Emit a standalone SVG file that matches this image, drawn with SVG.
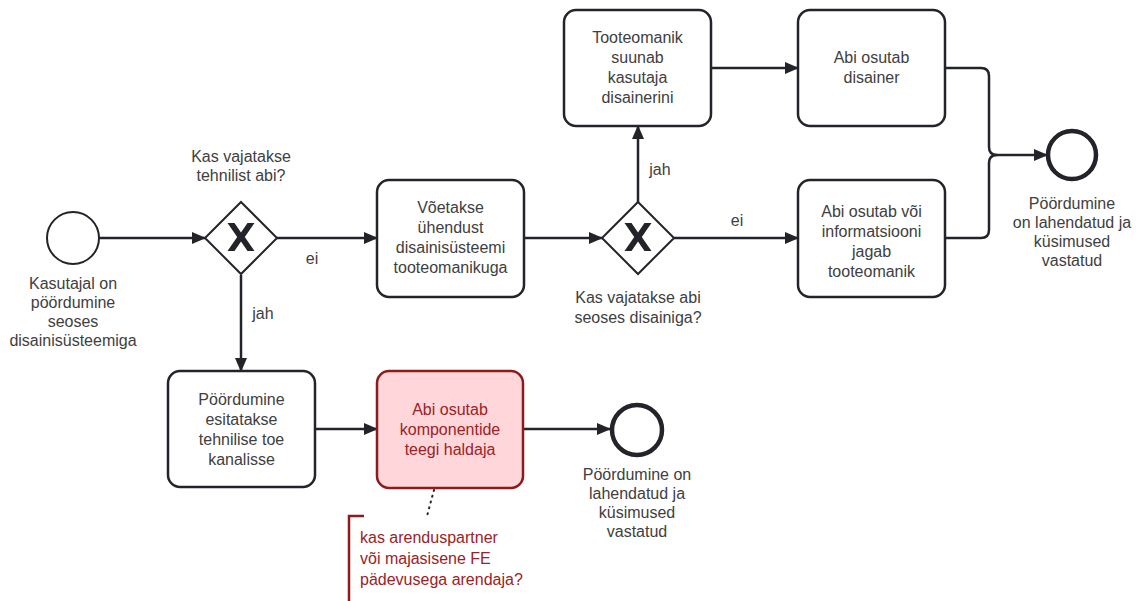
<svg xmlns="http://www.w3.org/2000/svg" width="1136" height="601" viewBox="0 0 1136 601">
<style>
text{font-family:"Liberation Sans",Arial,sans-serif;font-size:16px;fill:#404040;text-anchor:middle}
.task{fill:#ffffff;stroke:#22242a;stroke-width:2.5}
.red{fill:#ffd6da;stroke:#8e1b1b;stroke-width:2.5}
.redt{fill:#9b2226}
.ann{fill:#9b2226;text-anchor:start}
.ev{fill:#ffffff;stroke:#22242a;stroke-width:2}
.end{fill:#ffffff;stroke:#22242a;stroke-width:4.5}
.gw{fill:#ffffff;stroke:#22242a;stroke-width:2}
.x{fill:#22242a}
.flow{fill:none;stroke:#22242a;stroke-width:2.5;marker-end:url(#arr)}
.line{fill:none;stroke:#22242a;stroke-width:2.5}
.assoc{fill:none;stroke:#22242a;stroke-width:2;stroke-dasharray:1 5;stroke-linecap:round}
</style>
<defs>
<marker id="arr" markerUnits="userSpaceOnUse" markerWidth="14" markerHeight="14" viewBox="0 0 14 14" refX="13" refY="7" orient="auto">
<path d="M0,1 L14,7 L0,13 Z" fill="#22242a"/>
</marker>
<path id="xm" d="M-13.5,-14 L-6.5,-14 L0,-4.5 L6.5,-14 L13.5,-14 L3.8,0 L13.5,14 L6.5,14 L0,4.5 L-6.5,14 L-13.5,14 L-3.8,0 Z"/>
</defs>
<rect width="1136" height="601" fill="#ffffff"/>
<g id="connectors">
<path class="flow" d="M99,238 L205,238"/>
<path class="flow" d="M277,238 L377,238"/>
<path class="flow" d="M241,275 L241,371"/>
<path class="flow" d="M524,238 L602,238"/>
<path class="flow" d="M638,202 L638,126"/>
<path class="flow" d="M674,238 L798,238"/>
<path class="flow" d="M711,68 L798,68"/>
<path class="flow" d="M945,68 L981,68 Q989,68 989,76 L989,147 Q989,155 997,155 L1047,155"/>
<path class="line" d="M945,238 L981,238 Q989,238 989,230 L989,163 Q989,155 997,155"/>
<path class="flow" d="M315,429 L377,429"/>
<path class="flow" d="M523,429 L610,429"/>
<path class="assoc" d="M434,490 L427,516"/>
<text x="312" y="264">ei</text>
<text x="263" y="319">jah</text>
<text x="660" y="175">jah</text>
<text x="737" y="226">ei</text>
</g>
<g id="start">
<circle class="ev" cx="73" cy="238" r="26"/>
<text x="73" y="289">Kasutajal on</text>
<text x="73" y="308">pöördumine</text>
<text x="73" y="327">seoses</text>
<text x="73" y="346">disainisüsteemiga</text>
</g>
<g id="gw1">
<path class="gw" d="M241,202 L277,238 L241,274 L205,238 Z"/>
<use href="#xm" class="x" transform="translate(241,237)"/>
<text x="241" y="162">Kas vajatakse</text>
<text x="241" y="181">tehnilist abi?</text>
</g>
<g id="task-votetakse">
<rect class="task" x="377" y="180" width="147" height="117" rx="12"/>
<text x="450.5" y="213">Võetakse</text>
<text x="450.5" y="233">ühendust</text>
<text x="450.5" y="253">disainisüsteemi</text>
<text x="450.5" y="273">tooteomanikuga</text>
</g>
<g id="gw2">
<path class="gw" d="M638,202 L674,238 L638,274 L602,238 Z"/>
<use href="#xm" class="x" transform="translate(638,237)"/>
<text x="638" y="303">Kas vajatakse abi</text>
<text x="638" y="323">seoses disainiga?</text>
</g>
<g id="task-tooteomanik">
<rect class="task" x="564" y="10" width="147" height="116" rx="12"/>
<text x="637.5" y="43">Tooteomanik</text>
<text x="637.5" y="63">suunab</text>
<text x="637.5" y="83">kasutaja</text>
<text x="637.5" y="103">disainerini</text>
</g>
<g id="task-disainer">
<rect class="task" x="798" y="10" width="147" height="116" rx="12"/>
<text x="871.5" y="63">Abi osutab</text>
<text x="871.5" y="83">disainer</text>
</g>
<g id="task-tooteomanik2">
<rect class="task" x="798" y="180" width="147" height="117" rx="12"/>
<text x="871.5" y="217">Abi osutab või</text>
<text x="871.5" y="237">informatsiooni</text>
<text x="871.5" y="257">jagab</text>
<text x="871.5" y="277">tooteomanik</text>
</g>
<g id="end1">
<circle class="end" cx="1072" cy="155" r="24"/>
<text x="1072" y="209">Pöördumine</text>
<text x="1072" y="228">on lahendatud ja</text>
<text x="1072" y="247">küsimused</text>
<text x="1072" y="266">vastatud</text>
</g>
<g id="task-tehniline">
<rect class="task" x="168" y="371" width="147" height="116" rx="12"/>
<text x="241.5" y="405">Pöördumine</text>
<text x="241.5" y="425">esitatakse</text>
<text x="241.5" y="445">tehnilise toe</text>
<text x="241.5" y="465">kanalisse</text>
</g>
<g id="task-haldaja">
<rect class="red" x="377" y="371" width="146" height="117" rx="12"/>
<text class="redt" x="450" y="415">Abi osutab</text>
<text class="redt" x="450" y="435">komponentide</text>
<text class="redt" x="450" y="455">teegi haldaja</text>
</g>
<g id="end2">
<circle class="end" cx="637" cy="430" r="25"/>
<text x="637" y="480">Pöördumine on</text>
<text x="637" y="499">lahendatud ja</text>
<text x="637" y="518">küsimused</text>
<text x="637" y="537">vastatud</text>
</g>
<g id="annotation">
<path d="M364,516 L349,516 L349,601" fill="none" stroke="#8e1b1b" stroke-width="2.5"/>
<text class="ann" x="360" y="543">kas arenduspartner</text>
<text class="ann" x="360" y="564">või majasisene FE</text>
<text class="ann" x="360" y="585">pädevusega arendaja?</text>
</g>
</svg>
